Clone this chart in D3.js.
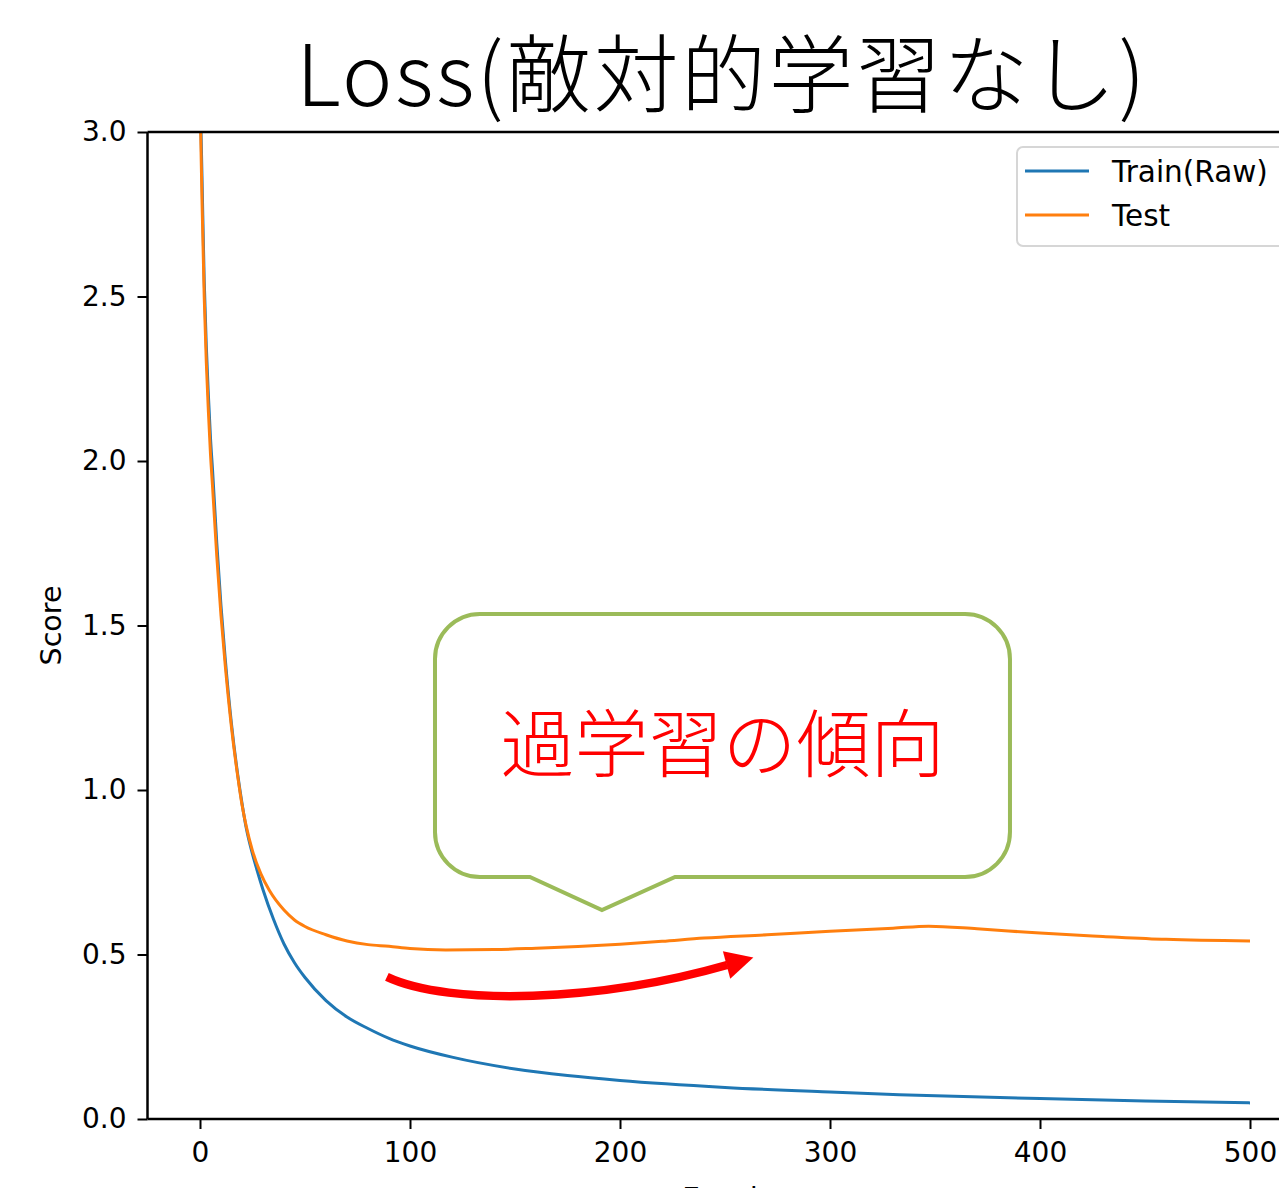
<!DOCTYPE html>
<html><head><meta charset="utf-8">
<script src="https://cdn.jsdelivr.net/npm/d3@7"></script>
<style>body{margin:0;background:#fff;} svg{display:block;}</style>
</head><body>
<svg id="chart" width="1279" height="1188"></svg>
<script>
// ---- data ----
const titleText = "Loss(敵対的学習なし)";
const seriesNames = ["Train(Raw)", "Test"];
const xTicks = [0, 100, 200, 300, 400, 500];
const yTicks = [0.0, 0.5, 1.0, 1.5, 2.0, 2.5, 3.0];
const trainEpochs = [0,1,2,3,4,5,6,8,10,12,15,18,20,22,25,27,30,35,40,45,50,60,70,80,90,100,120,150,175,200,250,300,333,400,450,500];
const trainLoss   = [3.15,2.85,2.55,2.35,2.2,2.07,1.97,1.75,1.56,1.4,1.2,1.045,0.96,0.885,0.805,0.76,0.697,0.607,0.532,0.475,0.43,0.36,0.31,0.275,0.245,0.222,0.188,0.152,0.132,0.117,0.096,0.082,0.074,0.062,0.055,0.049];
const testEpochs  = [0,1,2,3,4,5,6,8,10,12,15,18,20,22,25,29,33,40,45,50,60,70,80,90,100,117,140,160,180,200,220,240,270,300,330,347,370,400,430,460,500];
const testLoss    = [3.1,2.78,2.5,2.3,2.15,2.02,1.92,1.71,1.53,1.38,1.19,1.04,0.955,0.89,0.815,0.745,0.695,0.635,0.605,0.585,0.56,0.541,0.53,0.525,0.518,0.514,0.515,0.519,0.524,0.531,0.540,0.550,0.560,0.571,0.580,0.586,0.578,0.565,0.555,0.546,0.541];
const calloutText = "過学習の傾向";
// annotation geometry in data units (epoch, score)
const calloutBox = {x0: 111.9, x1: 385.7, y0: 0.7356, y1: 1.535};
const calloutPointer = [[157.1, 0.7356], [191.4, 0.635], [226.2, 0.7356]];
const arrowCurve = [[89, 0.432], [119, 0.342], [190.5, 0.357], [251, 0.468]];
const arrowHead = [[249, 0.510], [263.5, 0.491], [252.5, 0.426]];

// ---- layout ----
const svg = d3.select("#chart");
const W = 1279, H = 1188;
const x = d3.scaleLinear().domain([-25, 525]).range([147.5, 1302.5]);
const y = d3.scaleLinear().domain([0, 3]).range([1119, 132]);
const tickFont = "'DejaVu Sans', sans-serif";
const cjkFont = "'Noto Sans CJK JP', sans-serif";

svg.append("rect").attr("width", W).attr("height", H).attr("fill", "#fff");

svg.append("defs").append("clipPath").attr("id", "plotclip")
  .append("rect").attr("x", x(-25)).attr("y", y(3)).attr("width", x(525) - x(-25)).attr("height", y(0) - y(3));

const plot = svg.append("g").attr("clip-path", "url(#plotclip)");
const line = d3.line().curve(d3.curveMonotoneX).x(d => x(d[0])).y(d => y(d[1]));
const trainData = trainEpochs.map((e, i) => [e, trainLoss[i]]);
const testData = testEpochs.map((e, i) => [e, testLoss[i]]);
const colors = ["#1f77b4", "#ff7f0e"];
plot.append("path").datum(trainData).attr("d", line).attr("fill", "none").attr("stroke", colors[0]).attr("stroke-width", 3);
plot.append("path").datum(testData).attr("d", line).attr("fill", "none").attr("stroke", colors[1]).attr("stroke-width", 3);

// axes
const xAxis = d3.axisBottom(x).tickValues(xTicks).tickSize(10).tickPadding(13).tickFormat(d3.format("d"));
const yAxis = d3.axisLeft(y).tickValues(yTicks).tickSize(10).tickPadding(11).tickFormat(d3.format(".1f"));
const gx = svg.append("g").attr("transform", `translate(0,${y(0)})`).call(xAxis);
const gy = svg.append("g").attr("transform", `translate(${x(-25)},0)`).call(yAxis);
[gx, gy].forEach(g => {
  g.select(".domain").remove();
  g.selectAll(".tick line").attr("stroke", "#000").attr("stroke-width", 2);
  g.selectAll(".tick text").attr("font-family", tickFont).attr("font-size", 28).attr("fill", "#000");
});
// spines
svg.append("line").attr("x1", x(-25)).attr("x2", x(-25)).attr("y1", y(3)).attr("y2", y(0)).attr("stroke", "#000").attr("stroke-width", 2.5);
svg.append("line").attr("x1", x(-25)).attr("x2", x(525)).attr("y1", y(0)).attr("y2", y(0)).attr("stroke", "#000").attr("stroke-width", 2.5);
svg.append("line").attr("x1", x(-25)).attr("x2", x(525)).attr("y1", y(3)).attr("y2", y(3)).attr("stroke", "#000").attr("stroke-width", 2.5);

// axis labels
svg.append("text").attr("transform", `translate(61,${(y(0) + y(3)) / 2}) rotate(-90)`)
  .attr("text-anchor", "middle").attr("font-family", tickFont).attr("font-size", 28.5).text("Score");
svg.append("text").attr("x", (x(-25) + x(525)) / 2).attr("y", 1208)
  .attr("text-anchor", "middle").attr("font-family", tickFont).attr("font-size", 28).text("Epoch");

// title
svg.append("text").attr("x", 722).attr("y", 106).attr("text-anchor", "middle")
  .attr("font-family", cjkFont).attr("font-weight", 300).attr("font-size", 85).attr("fill", "#000")
  .attr("letter-spacing", 2.5)
  .text(titleText);

// legend
const lg = svg.append("g").attr("transform", "translate(1017,147)");
lg.append("rect").attr("width", 300).attr("height", 99).attr("rx", 6)
  .attr("fill", "#fff").attr("fill-opacity", 0.8).attr("stroke", "#d6d6d6").attr("stroke-width", 2);
seriesNames.forEach((n, i) => {
  const yy = 24 + i * 44;
  lg.append("line").attr("x1", 8).attr("x2", 72).attr("y1", yy).attr("y2", yy).attr("stroke", colors[i]).attr("stroke-width", 3);
  lg.append("text").attr("x", 95).attr("y", yy + 11).attr("font-family", tickFont).attr("font-size", 29.5).attr("fill", "#000").text(n);
});

// callout
const r = 45;
const bx0 = x(calloutBox.x0), bx1 = x(calloutBox.x1), by0 = y(calloutBox.y1), by1 = y(calloutBox.y0);
const p = d3.path();
p.moveTo(bx0 + r, by0);
p.lineTo(bx1 - r, by0);
p.arcTo(bx1, by0, bx1, by0 + r, r);
p.lineTo(bx1, by1 - r);
p.arcTo(bx1, by1, bx1 - r, by1, r);
p.lineTo(x(calloutPointer[2][0]), by1);
p.lineTo(x(calloutPointer[1][0]), y(calloutPointer[1][1]));
p.lineTo(x(calloutPointer[0][0]), by1);
p.lineTo(bx0 + r, by1);
p.arcTo(bx0, by1, bx0, by1 - r, r);
p.lineTo(bx0, by0 + r);
p.arcTo(bx0, by0, bx0 + r, by0, r);
p.closePath();
svg.append("path").attr("d", p.toString()).attr("fill", "#fff").attr("stroke", "#9bbb59").attr("stroke-width", 4).attr("stroke-linejoin", "miter");
svg.append("text").attr("x", (bx0 + bx1) / 2).attr("y", 771).attr("text-anchor", "middle")
  .attr("font-family", cjkFont).attr("font-weight", 300).attr("font-size", 74).attr("fill", "#ff0000")
  .text(calloutText);

// red arrow
const ap = d3.path();
ap.moveTo(x(arrowCurve[0][0]), y(arrowCurve[0][1]));
ap.bezierCurveTo(x(arrowCurve[1][0]), y(arrowCurve[1][1]), x(arrowCurve[2][0]), y(arrowCurve[2][1]), x(arrowCurve[3][0]), y(arrowCurve[3][1]));
svg.append("path").attr("d", ap.toString()).attr("fill", "none").attr("stroke", "#ff0000").attr("stroke-width", 8.5);
svg.append("path").attr("d", d3.line().x(d => x(d[0])).y(d => y(d[1]))(arrowHead) + "Z").attr("fill", "#ff0000");
</script>
</body></html>
